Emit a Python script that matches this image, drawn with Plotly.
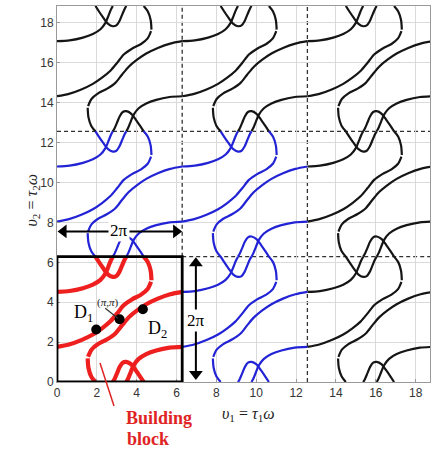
import math
import plotly.graph_objects as go

TWO_PI = 2 * math.pi

# ---------------- data ----------------
tick_vals = [0, 2, 4, 6, 8, 10, 12, 14, 16, 18]
tick_text = ["0", "2", "4", "6", "8", "10", "12", "14", "16", "18"]

# building-block curves, local coordinates (u = v1, v = v2) in [0, 2pi]
b1a_u = [0.00, 0.60, 1.22, 1.80, 2.26, 2.68, 3.02, 3.35, 3.76, 4.22, 4.55, 4.72]
b1a_v = [1.76, 1.88, 2.10, 2.38, 2.69, 3.04, 3.44, 3.85, 4.14, 4.38, 4.66, 5.02]
b1b_u = [4.74, 4.70, 4.56, 4.35]
b1b_v = [5.10, 5.58, 6.01, 6.284]
b2a_u = [6.284, 5.68, 5.06, 4.48, 4.02, 3.60, 3.26, 2.93, 2.52, 2.06, 1.73, 1.56]
b2a_v = [4.52, 4.40, 4.18, 3.90, 3.59, 3.24, 2.84, 2.43, 2.14, 1.90, 1.62, 1.26]
b2b_u = [1.54, 1.58, 1.72, 1.93]
b2b_v = [1.18, 0.70, 0.27, 0.00]
a_u = [0.00, 0.63, 1.30, 1.80, 2.18, 2.43, 2.58, 2.70, 2.80]
a_v = [4.52, 4.56, 4.70, 4.88, 5.12, 5.44, 5.79, 6.09, 6.284]
d_u = [6.284, 5.65, 4.98, 4.48, 4.10, 3.85, 3.70, 3.58, 3.48]
d_v = [1.76, 1.72, 1.58, 1.40, 1.16, 0.84, 0.49, 0.19, 0.00]
loop_u = [1.93, 2.10, 2.32, 2.55, 2.80, 2.98, 3.13, 3.27, 3.40, 3.48]
loop_v = [6.284, 6.02, 5.70, 5.40, 5.27, 5.31, 5.52, 5.85, 6.15, 6.284]
bump_u = [4.35, 4.18, 3.96, 3.73, 3.48, 3.30, 3.15, 3.01, 2.88, 2.80]
bump_v = [0.00, 0.26, 0.58, 0.88, 1.01, 0.97, 0.76, 0.43, 0.13, 0.00]

# colour of each tiled block [row j][column i]
block_colors = [
    ["red", "blue", "black"],
    ["blue", "blue", "black"],
    ["black", "black", "black"],
]

# marked points D1, (pi, pi), D2
pts_x = [1.97, math.pi, 4.31]
pts_y = [2.63, math.pi, 3.65]

color_map = {"red": "#ee1f1f", "blue": "#2323d6", "black": "#151515"}
width_map = {"red": 4.2, "blue": 2.2, "black": 2.2}

segments = [
    (b1a_u, b1a_v), (b1b_u, b1b_v), (b2a_u, b2a_v), (b2b_u, b2b_v),
    (a_u, a_v), (d_u, d_v), (loop_u, loop_v), (bump_u, bump_v),
]

fig = go.Figure()

for cname in ["black", "blue", "red"]:
    xs, ys = [], []
    for j, row in enumerate(block_colors):
        for i, c in enumerate(row):
            if c != cname:
                continue
            for su, sv in segments:
                xs += [u + i * TWO_PI for u in su] + [None]
                ys += [v + j * TWO_PI for v in sv] + [None]
    fig.add_trace(go.Scatter(
        x=xs, y=ys, mode="lines",
        line=dict(color=color_map[cname], width=width_map[cname], shape="spline", smoothing=0.8),
        hoverinfo="skip", connectgaps=False,
    ))

fig.add_trace(go.Scatter(
    x=pts_x, y=pts_y, mode="markers",
    marker=dict(color="black", size=10),
    hoverinfo="skip",
))

# dashed lines and the building block frame
dash_style = dict(color="#333333", width=1.3, dash="4px,3px")
fig.add_shape(type="line", x0=TWO_PI, x1=TWO_PI, y0=TWO_PI, y1=3 * TWO_PI, line=dash_style, layer="below")
fig.add_shape(type="line", x0=2 * TWO_PI, x1=2 * TWO_PI, y0=0, y1=3 * TWO_PI, line=dash_style, layer="below")
fig.add_shape(type="line", x0=TWO_PI, x1=3 * TWO_PI, y0=TWO_PI, y1=TWO_PI, line=dash_style, layer="below")
fig.add_shape(type="line", x0=0, x1=3 * TWO_PI, y0=2 * TWO_PI, y1=2 * TWO_PI, line=dash_style, layer="below")
fig.add_shape(type="rect", x0=0, x1=TWO_PI, y0=0, y1=TWO_PI,
              line=dict(color="black", width=2.8), layer="above")
# leader line to (pi, pi)
fig.add_shape(type="line", x0=2.42, y0=3.70, x1=3.05, y1=3.20,
              line=dict(color="#333333", width=1.2), layer="above")

# double arrows (2pi) : lines + triangle heads
arrow_line = dict(color="black", width=2)
fig.add_shape(type="line", x0=0.2, x1=6.1, y0=7.55, y1=7.55, line=arrow_line, layer="above")
fig.add_shape(type="line", x0=6.97, x1=6.97, y0=0.3, y1=6.05, line=arrow_line, layer="above")
fig.add_trace(go.Scatter(
    x=[0.33, 5.98, 6.97, 6.97], y=[7.55, 7.55, 5.95, 0.4], mode="markers",
    marker=dict(color="black", size=12,
                symbol=["triangle-left", "triangle-right", "triangle-up", "triangle-down"]),
    hoverinfo="skip", cliponaxis=False,
))

# red arrow to "Building block"
fig.add_shape(type="line", xref="paper", yref="paper",
              x0=(100 - 57) / 373, y0=(382 - 363) / 376,
              x1=(114 - 57) / 373, y1=(382 - 406) / 376,
              line=dict(color="#e02424", width=1.5), layer="above")
fig.add_trace(go.Scatter(
    x=[(115.5 - 57) / 19.93], y=[(382 - 410) / 19.95], mode="markers",
    marker=dict(color="#e02424", size=10, symbol="triangle-down", angle=-18),
    hoverinfo="skip", cliponaxis=False,
))

serif = "Liberation Serif, Times New Roman, serif"
ann = []
ann.append(dict(x=3.1, y=7.62, xref="x", yref="y", text="2π", showarrow=False, bgcolor="white",
                font=dict(family=serif, size=17, color="black")))
ann.append(dict(x=6.97, y=3.1, xref="x", yref="y", text="2π", showarrow=False, bgcolor="white",
                font=dict(family=serif, size=17, color="black")))
ann.append(dict(x=2.55, y=3.98, xref="x", yref="y", text="(<i>π</i>,<i>π</i>)", showarrow=False,
                font=dict(family=serif, size=11, color="#222")))
ann.append(dict(x=1.35, y=3.45, xref="x", yref="y", text="D<sub>1</sub>", showarrow=False,
                font=dict(family=serif, size=18, color="black")))
ann.append(dict(x=5.05, y=2.62, xref="x", yref="y", text="D<sub>2</sub>", showarrow=False,
                font=dict(family=serif, size=18, color="black")))
ann.append(dict(x=(124 - 57) / 373, y=(382 - 430) / 376, xref="paper", yref="paper",
                text="<b>Building</b>", showarrow=False,
                font=dict(family=serif, size=18, color="#e02424")))
ann.append(dict(x=(125 - 57) / 373, y=(382 - 451) / 376, xref="paper", yref="paper",
                text="<b>block</b>", showarrow=False,
                font=dict(family=serif, size=18, color="#e02424")))
ann.append(dict(x=(248 - 57) / 373, y=(382 - 426) / 376, xref="paper", yref="paper",
                text="<i>υ</i><sub>1</sub> = <i>τ</i><sub>1</sub><i>ω</i>", showarrow=False,
                font=dict(family=serif, size=16, color="#222")))
ann.append(dict(x=(20 - 57) / 373, y=(382 - 200) / 376, xref="paper", yref="paper",
                text="<i>υ</i><sub>2</sub> = <i>τ</i><sub>2</sub><i>ω</i>", showarrow=False,
                textangle=-90, font=dict(family=serif, size=16, color="#222")))

axis_common = dict(
    tickvals=tick_vals, ticktext=tick_text,
    showgrid=True, gridcolor="#dadada", gridwidth=1,
    showline=True, linecolor="#9a9a9a", linewidth=1, mirror=True,
    ticks="inside", ticklen=3, tickcolor="#9a9a9a",
    tickfont=dict(family="Liberation Sans, Arial, sans-serif", size=12, color="#333333"),
    zeroline=False, fixedrange=True,
)

fig.update_layout(
    width=431, height=462,
    margin=dict(l=57, r=1, t=6, b=80),
    paper_bgcolor="white", plot_bgcolor="white",
    showlegend=False,
    xaxis=dict(range=[0, 18.72], **axis_common),
    yaxis=dict(range=[0, 18.85], **axis_common),
    annotations=ann,
)

fig.write_html("out.html", config={"displayModeBar": False, "staticPlot": True},
               post_script="document.body.style.margin='0px';")
